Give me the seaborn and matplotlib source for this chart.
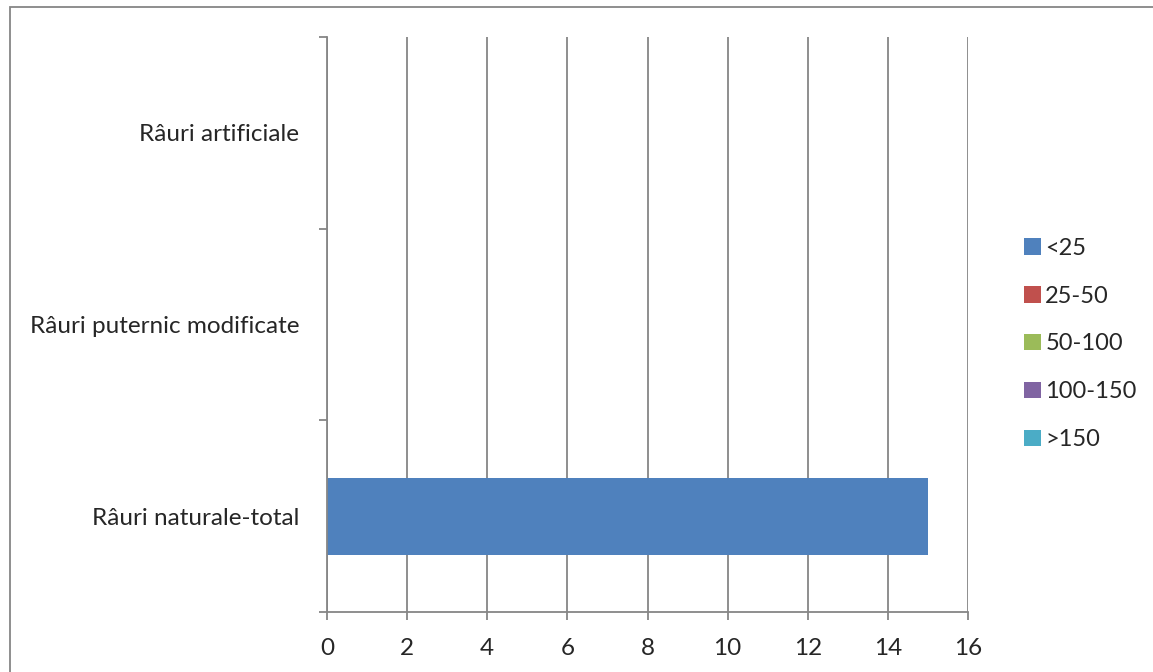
import matplotlib
matplotlib.use("Agg")
import pandas as pd
import seaborn as sns
import matplotlib.pyplot as plt
import matplotlib.ticker as ticker
from matplotlib.patches import Rectangle

sns.set_style("white")
plt.rcParams["font.family"] = ["Lato", "DejaVu Sans"]

# categories listed top to bottom
categories = ["Râuri artificiale", "Râuri puternic modificate", "Râuri naturale-total"]
series = ["<25", "25-50", "50-100", "100-150", ">150"]
colors = ["#4F81BD", "#C0504D", "#9BBB59", "#8064A2", "#4BACC6"]

v_lt25 = [0, 0, 15]
v_25_50 = [0, 0, 0]
v_50_100 = [0, 0, 0]
v_100_150 = [0, 0, 0]
v_gt150 = [0, 0, 0]

values = [v_lt25, v_25_50, v_50_100, v_100_150, v_gt150]

df = pd.DataFrame({"cat": categories})
cum = [0, 0, 0]
for name, vals in zip(series, values):
    cum = [c + v for c, v in zip(cum, vals)]
    df[name] = cum

fig = plt.figure(figsize=(11.53, 6.72), dpi=100)
ax = fig.add_axes([327 / 1153, 1 - 612 / 672, 641 / 1153, 575 / 672])

grid_col = "#868686"

# stacked bars: draw cumulative totals from the top series down
for name, col in reversed(list(zip(series, colors))):
    sns.barplot(data=df, x=name, y="cat", order=categories, color=col,
                width=0.4, ax=ax, label=name, saturation=1, edgecolor="none")

ax.set_xlim(0, 16)
ax.set_ylim(2.5, -0.5)
ax.xaxis.set_major_locator(ticker.MultipleLocator(2))
ax.grid(axis="x", color=grid_col, linewidth=1.3)
ax.set_axisbelow(True)
ax.set(xlabel="", ylabel="")

ax.set_yticks([-0.5, 0.5, 1.5, 2.5], minor=True)
ax.tick_params(axis="y", which="major", length=0, pad=20, labelsize=17.5)
ax.tick_params(axis="y", which="minor", length=6, color=grid_col, width=1.3, direction="out", left=True)
ax.tick_params(axis="x", which="major", length=6, color=grid_col, width=1.3, direction="out",
               bottom=True, pad=13, labelsize=17.5)

for s in ["top", "right"]:
    ax.spines[s].set_visible(False)
for s in ["left", "bottom"]:
    ax.spines[s].set_color(grid_col)
    ax.spines[s].set_linewidth(1.3)

handles, labels = ax.get_legend_handles_labels()
order = [labels.index(s) for s in series]
ax.legend([handles[i] for i in order], [labels[i] for i in order],
          loc="center left", bbox_to_anchor=(1024 / 1153, 1 - 344 / 672),
          bbox_transform=fig.transFigure, frameon=False, fontsize=17,
          handlelength=0.7, handleheight=0.7, handletextpad=0.2, labelspacing=1.14,
          borderpad=0, borderaxespad=0)

fig.patches.append(Rectangle((10 / 1153, -0.1), 1.2, 1.1 - 7 / 672, transform=fig.transFigure,
                             fill=False, edgecolor=grid_col, linewidth=1.3))

fig.savefig("out.png", dpi=100)
